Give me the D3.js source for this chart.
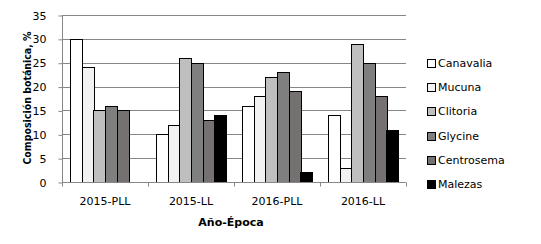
<!DOCTYPE html>
<html><head><meta charset="utf-8">
<script src="https://cdn.jsdelivr.net/npm/d3@7"></script>
<style>body{margin:0;background:#fff}svg{display:block}</style>
</head><body>
<svg id="c" width="541" height="244"></svg>
<script>
const categories = ["2015-PLL", "2015-LL", "2016-PLL", "2016-LL"];
const seriesNames = ["Canavalia", "Mucuna", "Clitoria", "Glycine", "Centrosema", "Malezas"];
const canavalia = [30, 10, 16, 14];
const mucuna = [24, 12, 18, 3];
const clitoria = [15, 26, 22, 29];
const glycine = [16, 25, 23, 25];
const centrosema = [15, 13, 19, 18];
const malezas = [0, 14, 2, 11];
const yTicks = [0, 5, 10, 15, 20, 25, 30, 35];
const colors = ["#ffffff", "#f2f2f2", "#bfbfbf", "#7f7f7f", "#767171", "#000000"];

const series = [canavalia, mucuna, clitoria, glycine, centrosema, malezas];
const svg = d3.select("#c");
const L = 62, R = 406, T = 15, B = 182;
const font = "'DejaVu Sans', Verdana, sans-serif";

const x = d3.scaleBand().domain(categories).range([L, R]).paddingInner(0).paddingOuter(0);
const y = d3.scaleLinear().domain([0, 35]).range([B, T]);
const xs = d3.scaleBand().domain(seriesNames).range([0, x.bandwidth()]).paddingInner(0).paddingOuter(0.68);

// gridlines
svg.append("g").selectAll("line").data(yTicks.filter(d => d > 0)).join("line")
  .attr("x1", L).attr("x2", R).attr("y1", d => Math.round(y(d)) + 0.5).attr("y2", d => Math.round(y(d)) + 0.5)
  .attr("stroke", "#868686").attr("stroke-width", 1);

// y axis
const ya = svg.append("g").attr("transform", `translate(${L + 0.5},0.5)`)
  .call(d3.axisLeft(y).tickValues(yTicks).tickSize(4).tickPadding(12));
ya.select(".domain").attr("stroke", "#868686").attr("d", `M0,${T}V${B}`);
ya.selectAll(".tick line").attr("stroke", "#868686");
ya.selectAll("text").attr("font-family", font).attr("font-size", 11).attr("fill", "#000");

// bars
const g = svg.append("g");
categories.forEach((c, ci) => {
  series.forEach((s, si) => {
    const v = s[ci];
    if (v <= 0) return;
    g.append("rect")
      .attr("x", Math.round(x(c) + xs(seriesNames[si])) + 0.5)
      .attr("y", Math.round(y(v)) + 0.5)
      .attr("width", Math.round(xs.bandwidth()))
      .attr("height", Math.round(B - y(v)))
      .attr("fill", colors[si]).attr("stroke", "#000").attr("stroke-width", 1);
  });
});

// x axis
const xa = svg.append("g").attr("transform", `translate(0,${B + 0.5})`);
xa.append("line").attr("x1", L).attr("x2", R).attr("stroke", "#868686");
xa.selectAll("line.t").data(categories.map(c => x(c)).concat([R])).join("line").attr("class", "t")
  .attr("x1", d => Math.round(d) + 0.5).attr("x2", d => Math.round(d) + 0.5).attr("y1", 0).attr("y2", 4)
  .attr("stroke", "#868686");
xa.selectAll("text").data(categories).join("text")
  .attr("x", d => x(d) + x.bandwidth() / 2).attr("y", 22)
  .attr("text-anchor", "middle").attr("font-family", font).attr("font-size", 11).text(d => d);

// axis titles
svg.append("text").attr("x", 231).attr("y", 226).attr("text-anchor", "middle")
  .attr("font-family", font).attr("font-size", 11).attr("font-weight", "bold").text("Año-Época");
svg.append("text").attr("transform", "translate(31,98) rotate(-90)").attr("text-anchor", "middle")
  .attr("font-family", "'DejaVu Sans Condensed', 'DejaVu Sans', sans-serif").attr("font-size", 10.5)
  .attr("font-weight", "bold").text("Composición botánica, %");

// legend
const lg = svg.append("g");
seriesNames.forEach((n, i) => {
  const yy = 63 + i * 24.2;
  lg.append("rect").attr("x", 427.5).attr("y", Math.round(yy - 4) + 0.5).attr("width", 8).attr("height", 8)
    .attr("fill", colors[i]).attr("stroke", "#000");
  lg.append("text").attr("x", 438).attr("y", yy + 4).attr("font-family", font).attr("font-size", 11).text(n);
});
</script>
</body></html>
